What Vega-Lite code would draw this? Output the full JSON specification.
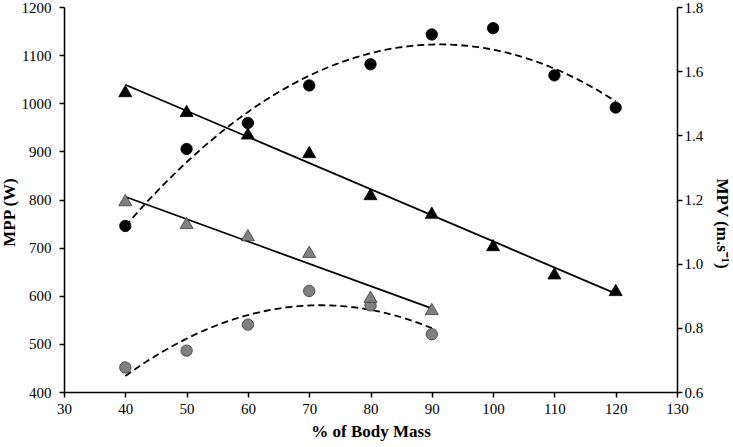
{
  "$schema": "https://vega.github.io/schema/vega-lite/v6.json",
  "width": 613,
  "height": 385,
  "autosize": {"type": "none"},
  "padding": {"left": 64, "top": 7, "right": 56, "bottom": 55},
  "background": "white",
  "datasets": {
    "mpp": [
      {"pct": 40, "group": "A", "value": 745},
      {"pct": 50, "group": "A", "value": 905},
      {"pct": 60, "group": "A", "value": 959},
      {"pct": 70, "group": "A", "value": 1037},
      {"pct": 80, "group": "A", "value": 1081},
      {"pct": 90, "group": "A", "value": 1143},
      {"pct": 100, "group": "A", "value": 1156},
      {"pct": 110, "group": "A", "value": 1058},
      {"pct": 120, "group": "A", "value": 991},
      {"pct": 40, "group": "B", "value": 451},
      {"pct": 50, "group": "B", "value": 486},
      {"pct": 60, "group": "B", "value": 540},
      {"pct": 70, "group": "B", "value": 610},
      {"pct": 80, "group": "B", "value": 580},
      {"pct": 90, "group": "B", "value": 520}
    ],
    "mpv": [
      {"pct": 40, "group": "A", "value": 1.538},
      {"pct": 50, "group": "A", "value": 1.476},
      {"pct": 60, "group": "A", "value": 1.406},
      {"pct": 70, "group": "A", "value": 1.348},
      {"pct": 80, "group": "A", "value": 1.217},
      {"pct": 90, "group": "A", "value": 1.159},
      {"pct": 100, "group": "A", "value": 1.058},
      {"pct": 110, "group": "A", "value": 0.970},
      {"pct": 120, "group": "A", "value": 0.918},
      {"pct": 40, "group": "B", "value": 1.198},
      {"pct": 50, "group": "B", "value": 1.127},
      {"pct": 60, "group": "B", "value": 1.089},
      {"pct": 70, "group": "B", "value": 1.037},
      {"pct": 80, "group": "B", "value": 0.897},
      {"pct": 90, "group": "B", "value": 0.859}
    ]
  },
  "layer": [
    {
      "data": {"name": "mpp"},
      "encoding": {
        "x": {
          "field": "pct", "type": "quantitative",
          "scale": {"domain": [30, 130], "nice": false, "zero": false},
          "axis": {"values": [30, 40, 50, 60, 70, 80, 90, 100, 110, 120, 130], "format": "d", "title": "% of Body Mass", "labelFont": "Liberation Serif", "titleFont": "Liberation Serif", "labelPadding": 4, "titlePadding": 7, "labelFlush": false}
        },
        "y": {
          "field": "value", "type": "quantitative",
          "scale": {"domain": [400, 1200], "nice": false, "zero": false},
          "axis": {"orient": "left", "values": [400, 500, 600, 700, 800, 900, 1000, 1100, 1200], "format": "d", "title": "MPP (W)", "titleY": 205, "labelFont": "Liberation Serif", "titleFont": "Liberation Serif", "labelPadding": 8, "titlePadding": 3, "labelFlush": false}
        }
      },
      "layer": [
        {
          "transform": [{"regression": "value", "on": "pct", "method": "poly", "order": 2, "groupby": ["group"]}],
          "mark": {"type": "line", "color": "black", "strokeWidth": 1.8, "strokeDash": [7, 4]},
          "encoding": {"detail": {"field": "group", "type": "nominal"}}
        },
        {
          "mark": {"type": "point", "shape": "circle", "filled": true, "size": 130, "opacity": 1, "strokeWidth": 0.8},
          "encoding": {
            "fill": {"field": "group", "type": "nominal", "scale": {"domain": ["A", "B"], "range": ["#000000", "#808080"]}, "legend": null},
            "stroke": {"field": "group", "type": "nominal", "scale": {"domain": ["A", "B"], "range": ["#000000", "#3a3a3a"]}, "legend": null}
          }
        }
      ]
    },
    {
      "data": {"name": "mpv"},
      "encoding": {
        "x": {
          "field": "pct", "type": "quantitative",
          "scale": {"domain": [30, 130], "nice": false, "zero": false},
          "axis": {"values": [30, 40, 50, 60, 70, 80, 90, 100, 110, 120, 130], "format": "d", "title": "% of Body Mass", "labelFont": "Liberation Serif", "titleFont": "Liberation Serif", "labelPadding": 4, "titlePadding": 7, "labelFlush": false}
        },
        "y": {
          "field": "value", "type": "quantitative",
          "scale": {"domain": [0.6, 1.8], "nice": false, "zero": false},
          "axis": {"orient": "right", "values": [0.6, 0.8, 1.0, 1.2, 1.4, 1.6, 1.8], "format": ".1f", "title": "MPV (m.s⁻¹)", "titleY": 216, "labelFont": "Liberation Serif", "titleFont": "Liberation Serif", "titleAngle": 90, "labelPadding": 2, "titlePadding": 10, "labelFlush": false}
        }
      },
      "layer": [
        {
          "transform": [{"regression": "value", "on": "pct", "method": "linear", "groupby": ["group"]}],
          "mark": {"type": "line", "color": "black", "strokeWidth": 1.8},
          "encoding": {"detail": {"field": "group", "type": "nominal"}}
        },
        {
          "mark": {"type": "point", "shape": "triangle-up", "filled": true, "size": 170, "opacity": 1, "strokeWidth": 0.8},
          "encoding": {
            "fill": {"field": "group", "type": "nominal", "scale": {"domain": ["A", "B"], "range": ["#000000", "#808080"]}, "legend": null},
            "stroke": {"field": "group", "type": "nominal", "scale": {"domain": ["A", "B"], "range": ["#000000", "#3a3a3a"]}, "legend": null}
          }
        }
      ]
    }
  ],
  "resolve": {"scale": {"y": "independent"}},
  "config": {
    "font": "Liberation Serif",
    "view": {"stroke": null},
    "axis": {
      "labelFont": "Liberation Serif",
      "titleFont": "Liberation Serif",
      "labelFontSize": 15,
      "titleFontSize": 17,
      "titleFontWeight": "bold",
      "labelColor": "black",
      "titleColor": "black",
      "domainColor": "black",
      "domainWidth": 1.5,
      "tickColor": "black",
      "tickWidth": 1.5,
      "tickSize": 5,
      "grid": false
    }
  }
}
